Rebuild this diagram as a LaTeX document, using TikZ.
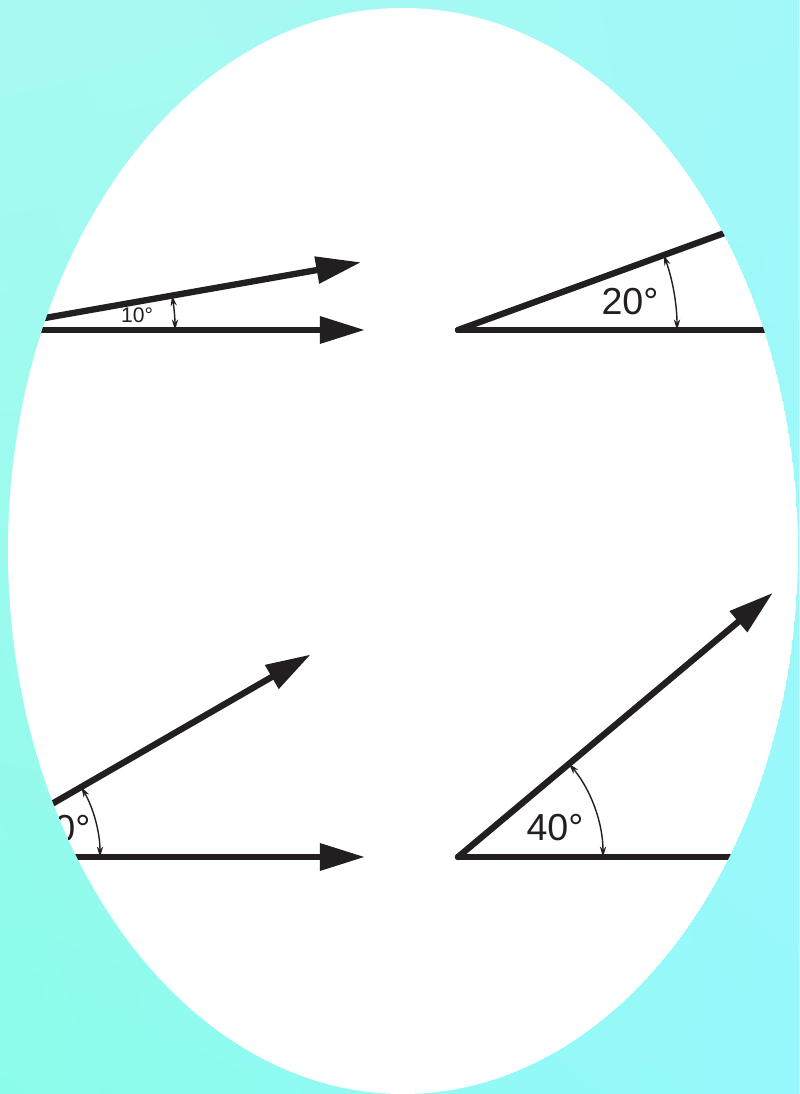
\documentclass[tikz,border=0pt]{standalone}
\usepackage{fontspec}
\setmainfont{Liberation Sans}
\usetikzlibrary{arrows.meta,calc,shadings}

\definecolor{bgul}{RGB}{168,250,240}
\definecolor{bgur}{RGB}{162,248,248}
\definecolor{bgll}{RGB}{140,252,234}
\definecolor{bglr}{RGB}{150,248,252}
\definecolor{ink}{RGB}{35,31,32}

\begin{document}
\begin{tikzpicture}[
  x=0.01cm, y=0.01cm,
  arr/.style={-{Triangle[length=12.8pt,width=7.4pt]}, line width=1.8pt, ink, line cap=round},
  arcarr/.style={{Stealth[length=3pt,width=1.8pt]}-{Stealth[length=3pt,width=1.8pt]}, line width=0.4pt, ink},
  lbl/.style={font=\fontsize{10.7}{12}\selectfont, text=ink, inner sep=0pt},
  small/.style={font=\fontsize{6}{7}\selectfont, text=ink, inner sep=0pt}
]
  \useasboundingbox (0,0) rectangle (799,1094);
  \shade[upper left=bgul, upper right=bgur, lower left=bgll, lower right=bglr] (0,0) rectangle (799,1094);

  \begin{scope}
    \clip (403,543) ellipse [x radius=395, y radius=543];
    \fill[white] (403,543) ellipse [x radius=395, y radius=543];

    % 10 degrees
    \coordinate (v1) at (-23,764);
    \coordinate (b1) at ($(v1)+(0:388)$);
    \coordinate (u1) at ($(v1)+(10:390)$);
    \draw[arr] (v1) -- (b1);
    \draw[arr] (v1) -- (u1);
    \draw[arcarr] ($(v1)+(0:198)$) arc[start angle=0, end angle=10, radius=198];
    \node[small] (l1) at (137,779) {10°};

    % 20 degrees
    \coordinate (v2) at (458,764);
    \coordinate (b2) at ($(v2)+(0:400)$);
    \coordinate (u2) at ($(v2)+(20:400)$);
    \draw[arr] (v2) -- (b2);
    \draw[arr] (v2) -- (u2);
    \draw[arcarr] ($(v2)+(0:219)$) arc[start angle=0, end angle=20, radius=219];
    \node[lbl] (l2) at (630,792) {20°};

    % 30 degrees
    \coordinate (v3) at (-40,237);
    \coordinate (b3) at ($(v3)+(0:405)$);
    \coordinate (u3) at ($(v3)+(30:405)$);
    \draw[arr] (v3) -- (b3);
    \draw[arr] (v3) -- (u3);
    \draw[arcarr] ($(v3)+(0:140)$) arc[start angle=0, end angle=30, radius=140];
    \node[lbl] (l3) at (62,265) {30°};

    % 40 degrees
    \coordinate (v4) at (458,237);
    \coordinate (b4) at ($(v4)+(0:400)$);
    \coordinate (u4) at ($(v4)+(40:411)$);
    \draw[arr] (v4) -- (b4);
    \draw[arr] (v4) -- (u4);
    \draw[arcarr] ($(v4)+(0:145)$) arc[start angle=0, end angle=40, radius=145];
    \node[lbl] (l4) at (555,266) {40°};
  \end{scope}
\end{tikzpicture}
\end{document}
